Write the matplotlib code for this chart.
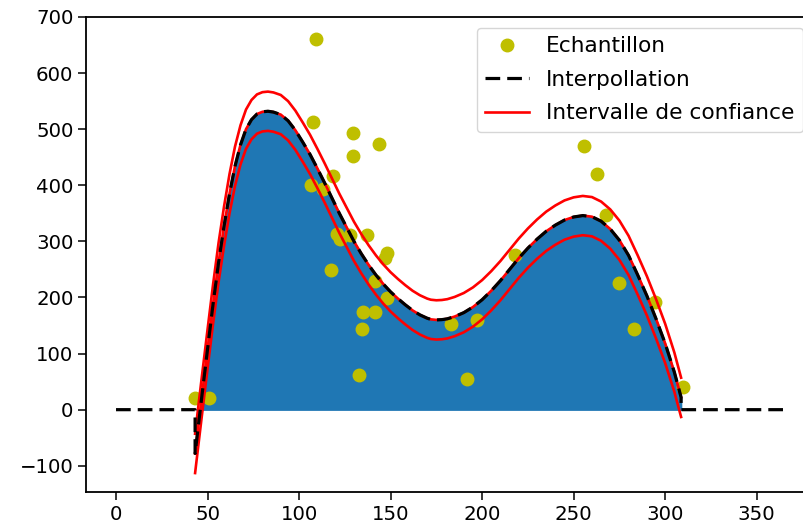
import matplotlib
matplotlib.use("Agg")
import matplotlib.pyplot as plt
import numpy as np

# Sample points (Echantillon)
sample_x = [43, 51, 107.8, 109.3, 106.3, 112.8, 118.5, 129.6, 129.6, 143.7,
            120.5, 122.4, 128, 137, 117.3, 141.5, 147.8, 135, 141.7, 134.2,
            132.9, 148.2, 146.8, 218, 182.8, 197.4, 191.6, 255.6, 262.9, 267.7,
            274.8, 294.4, 283.1, 309.6]
sample_y = [20, 20, 512, 661, 401, 393, 416, 494, 452, 474,
            313, 305, 312, 311, 249, 230, 199, 175, 175, 144,
            62, 280, 270, 275, 152, 160, 54, 470, 420, 347,
            225, 192, 144, 41]

# Fitted curve
curve_x = [43.2, 45, 47, 50, 53, 56, 59, 62, 65, 68, 71, 74, 77, 80, 83, 86,
           90, 94, 98, 102, 106, 110, 114, 118, 122, 126, 130, 134, 138, 142,
           146, 150, 154, 158, 162, 166, 170, 172, 175, 178, 181, 185, 190, 195,
           200, 205, 210, 215, 220, 225, 230, 235, 240, 245, 250, 255, 260, 265,
           270, 275, 280, 285, 290, 295, 300, 305, 308.7]
curve_y = [-78, -28, 27, 108, 188, 262, 327, 385, 434, 472, 500, 517, 527, 531, 532, 530.5,
           526, 515, 498, 477, 455, 430, 404, 377, 350, 325, 300, 278, 258, 240,
           224, 210, 198, 187, 177, 169, 163, 161, 160, 160.5, 162, 166, 173, 183,
           196, 212, 230, 250, 270, 288, 304, 318, 329, 338, 343.5, 346, 344, 336,
           322, 302, 275, 240, 203, 162, 118, 67, 22]
ci_half = 35

domain_x = [0, 365]

cx = np.array(curve_x)
cy = np.array(curve_y)
interp_x = np.concatenate([[domain_x[0], cx[0]], cx, [cx[-1], domain_x[1]]])
interp_y = np.concatenate([[0, 0], cy, [0, 0]])

fig = plt.figure(figsize=(8.04, 5.28), dpi=100)
ax = fig.add_axes([86/804, 1 - 492.3/528, 728/804, 475.3/528])

ax.fill_between(cx, 0, cy, where=cy >= 0, interpolate=True, color='#1f77b4', zorder=1)
h_s, = ax.plot(sample_x, sample_y, 'o', color='y', markersize=9, zorder=2, label='Echantillon')
ax.plot(cx, cy, color='red', lw=1.9, zorder=3)
h_up, = ax.plot(cx, cy + ci_half, color='red', lw=1.9, zorder=3, label='Intervalle de confiance')
ax.plot(cx, cy - ci_half, color='red', lw=1.9, zorder=3)
h_i, = ax.plot(interp_x, interp_y, color='black', lw=2.3, linestyle=(0, (4.6, 2.2)), zorder=4,
               label='Interpollation')

ax.set_xlim(-16.4, 381.3)
ax.set_ylim(-147.3, 698.5)
ax.set_xticks([0, 50, 100, 150, 200, 250, 300, 350])
ax.set_yticks([-100, 0, 100, 200, 300, 400, 500, 600, 700])
ax.tick_params(labelsize=14.2, length=5.5, width=1.1)
for s in ax.spines.values():
    s.set_linewidth(1.3)

ax.legend([h_s, h_i, h_up], ['Echantillon', 'Interpollation', 'Intervalle de confiance'],
          loc='upper right', fontsize=15.6, labelspacing=0.62)

fig.savefig('out.png', dpi=100)
